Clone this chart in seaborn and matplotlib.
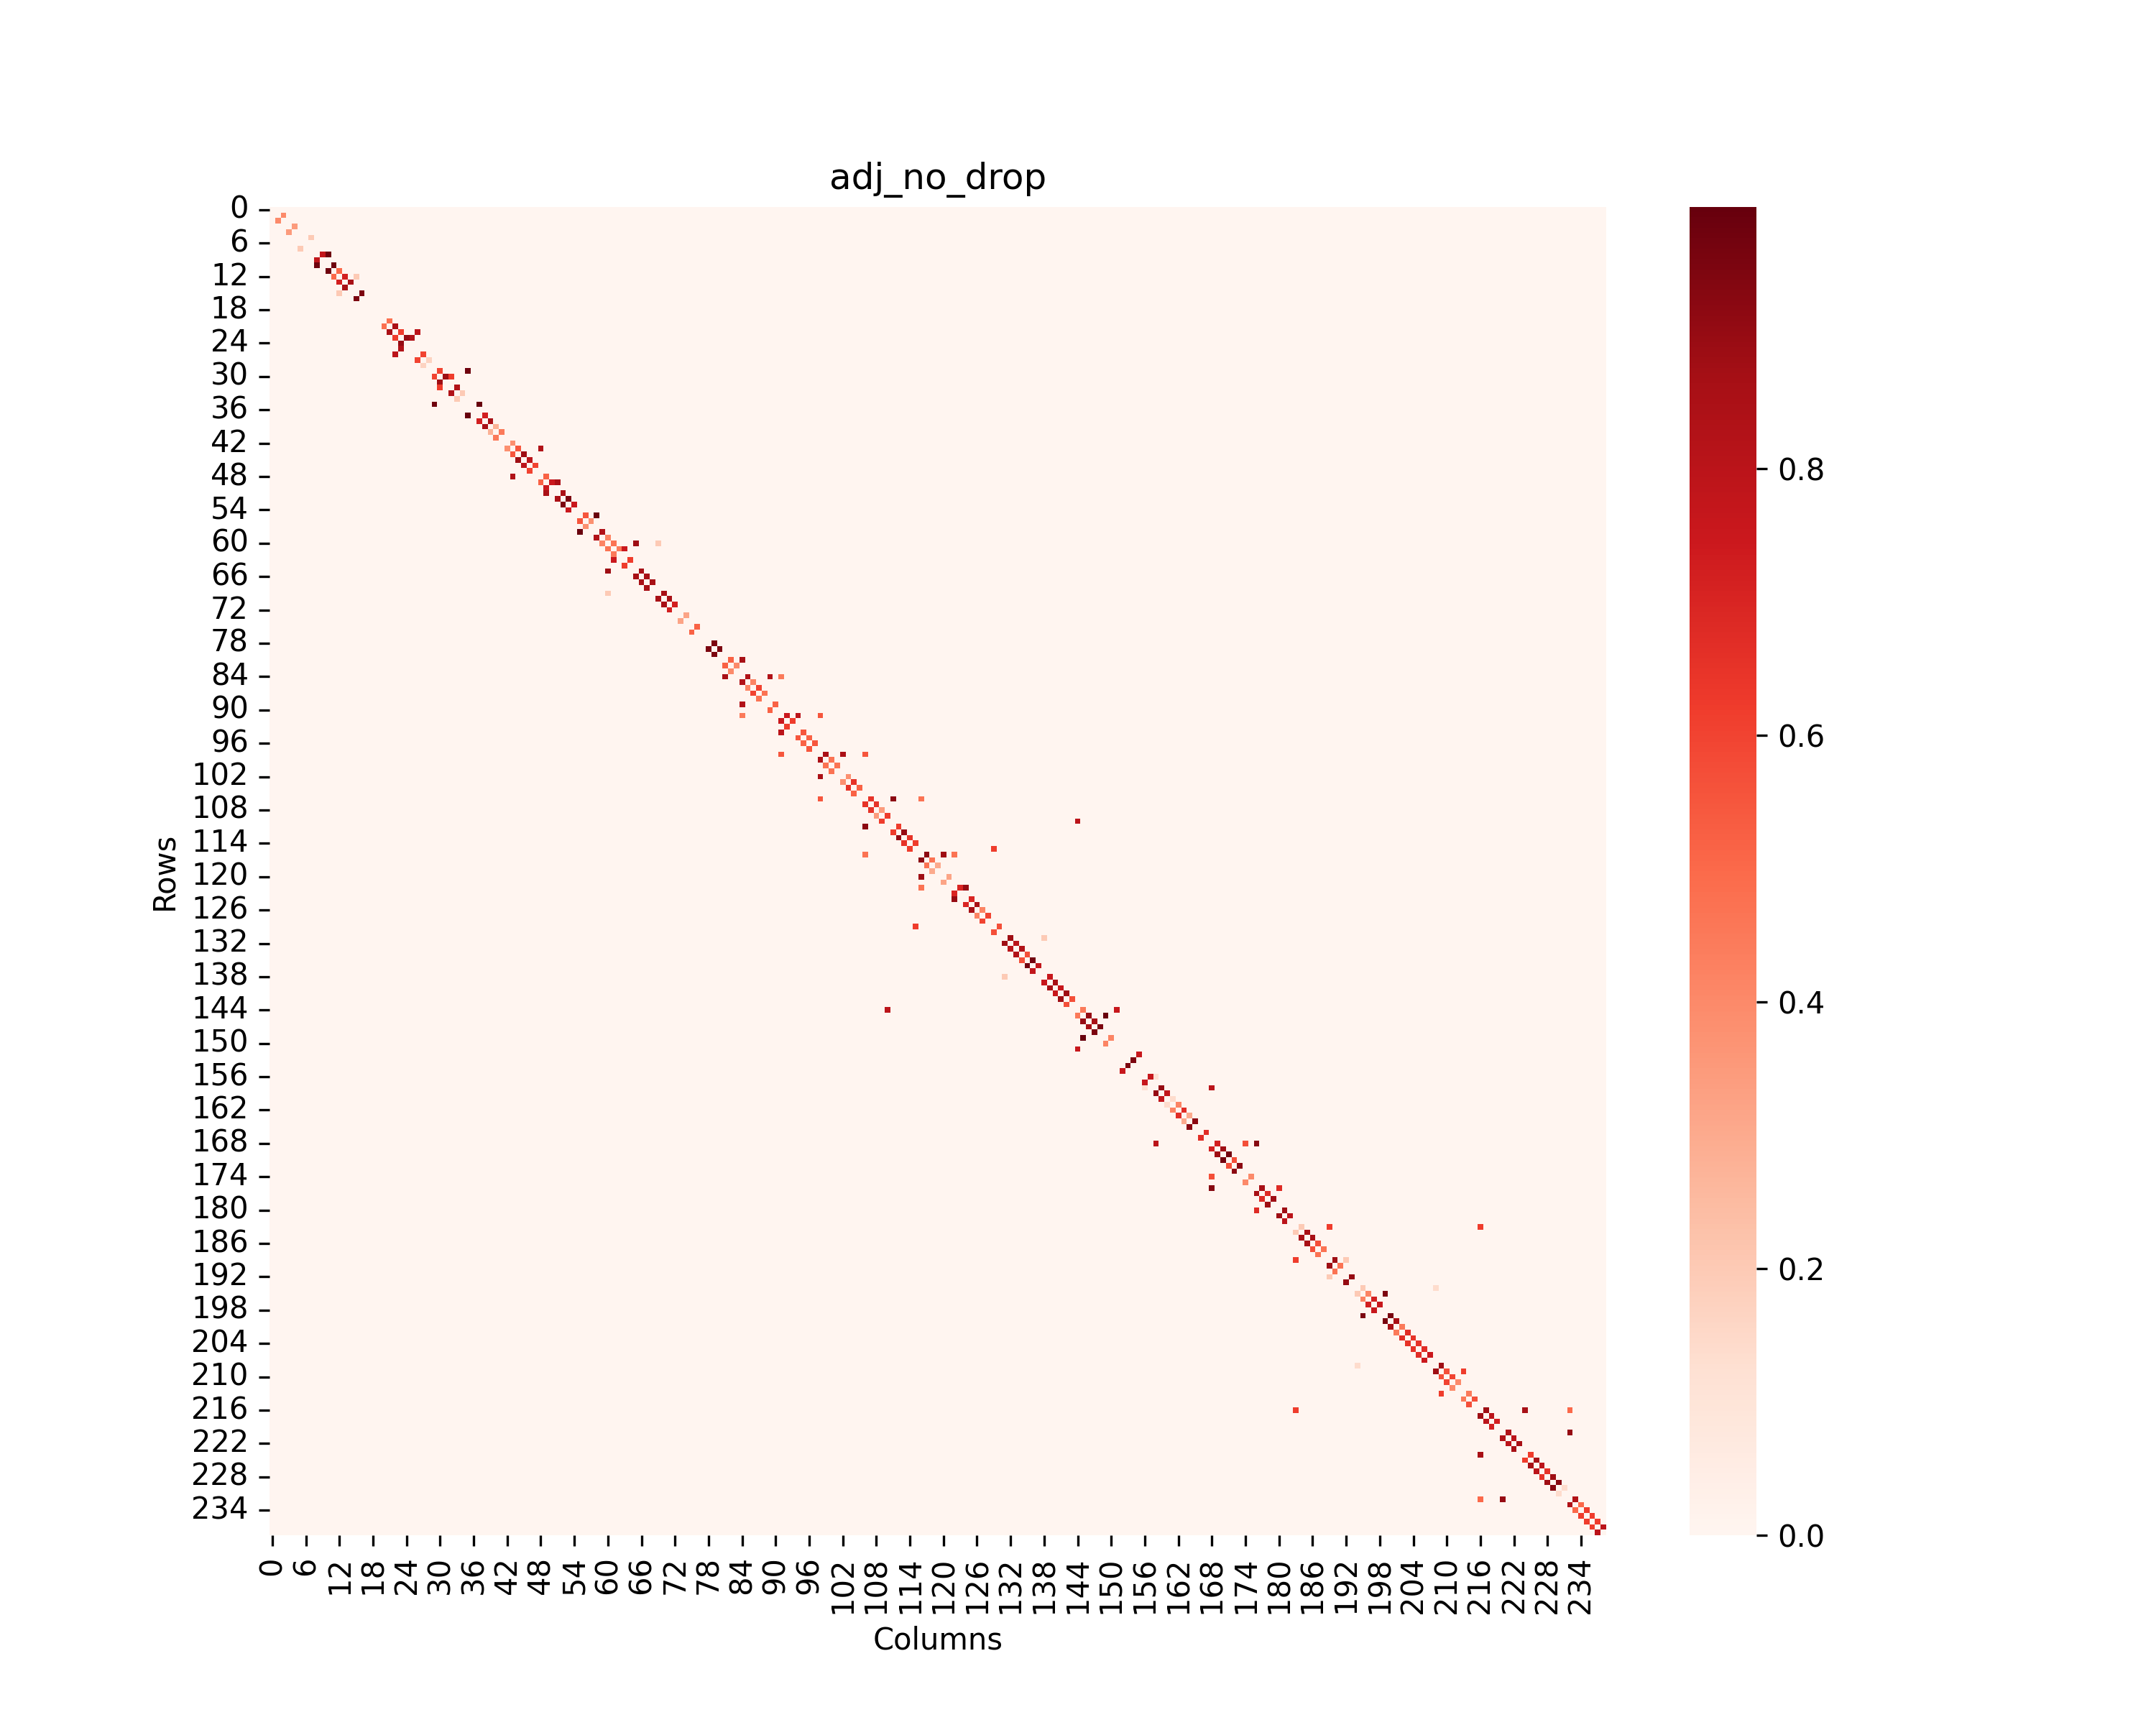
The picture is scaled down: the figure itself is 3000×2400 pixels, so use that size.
import numpy as np
import matplotlib
matplotlib.use("Agg")
import matplotlib.pyplot as plt
import seaborn as sns

# size of the (symmetric) adjacency matrix
n_nodes = 239

# upper-triangle edges: row index, column index, weight
edge_i = [1, 3, 5, 8, 8, 10, 11, 12, 12, 13, 15, 20, 21, 22, 22, 23, 23, 26, 27, 29,
          29, 30, 30, 32, 33, 35, 37, 38, 39, 40, 42, 43, 43, 44, 45, 46, 48, 49, 49, 51,
          52, 53, 55, 55, 56, 58, 59, 60, 60, 60, 61, 61, 63, 65, 66, 67, 69, 70, 71, 73,
          75, 78, 79, 81, 81, 82, 84, 84, 84, 85, 86, 87, 89, 91, 91, 91, 92, 94, 95, 96,
          98, 98, 98, 99, 100, 102, 103, 104, 106, 106, 106, 107, 108, 109, 110, 111, 112, 113, 114, 115,
          116, 116, 116, 117, 118, 120, 122, 122, 124, 125, 126, 127, 129, 131, 131, 132, 133, 134, 135, 136,
          138, 139, 140, 141, 142, 144, 144, 145, 145, 146, 147, 149, 152, 153, 156, 156, 158, 158, 159, 160,
          161, 162, 163, 164, 166, 168, 168, 168, 169, 170, 171, 172, 174, 176, 176, 177, 178, 180, 181, 183,
          183, 183, 184, 185, 186, 187, 189, 189, 190, 192, 194, 194, 195, 195, 196, 197, 199, 200, 201, 202,
          203, 204, 205, 206, 208, 209, 209, 210, 211, 213, 214, 216, 216, 216, 217, 218, 220, 220, 221, 222,
          224, 225, 226, 227, 228, 229, 230, 232, 233, 234, 235, 236, 237]
edge_j = [2, 4, 7, 9, 10, 11, 12, 13, 15, 14, 16, 21, 22, 23, 26, 24, 25, 27, 28, 30,
          35, 31, 32, 33, 34, 37, 38, 39, 40, 41, 43, 44, 48, 45, 46, 47, 49, 50, 51, 52,
          53, 54, 56, 58, 57, 59, 60, 61, 65, 69, 62, 63, 64, 66, 67, 68, 70, 71, 72, 74,
          76, 79, 80, 82, 84, 83, 85, 89, 91, 86, 87, 88, 90, 92, 94, 98, 93, 95, 96, 97,
          99, 102, 106, 100, 101, 103, 104, 105, 107, 111, 116, 108, 109, 110, 144, 112, 113, 114, 115, 129,
          117, 120, 122, 118, 119, 121, 123, 124, 125, 126, 127, 128, 130, 132, 138, 133, 134, 135, 136, 137,
          139, 140, 141, 142, 143, 145, 151, 146, 149, 147, 148, 150, 155, 154, 157, 158, 159, 168, 160, 161,
          162, 163, 164, 165, 167, 169, 174, 176, 170, 171, 172, 173, 175, 177, 180, 178, 179, 181, 182, 184,
          189, 216, 185, 186, 187, 188, 190, 192, 191, 193, 195, 208, 196, 199, 197, 198, 200, 201, 202, 203,
          204, 205, 206, 207, 209, 210, 213, 211, 212, 214, 215, 217, 224, 232, 218, 219, 221, 232, 222, 223,
          225, 226, 227, 228, 229, 230, 231, 233, 234, 235, 236, 237, 238]
edge_w = [0.40, 0.35, 0.20, 0.78, 0.98, 0.98, 0.50, 0.72, 0.20, 0.86, 0.95, 0.48, 0.85, 0.62, 0.80, 0.90, 0.83, 0.60, 0.17, 0.60,
          0.98, 0.88, 0.62, 0.83, 0.20, 0.996, 0.72, 0.86, 0.28, 0.45, 0.38, 0.55, 0.83, 0.88, 0.80, 0.60, 0.52, 0.75, 0.85, 0.85,
          0.95, 0.75, 0.55, 0.99, 0.38, 0.83, 0.42, 0.47, 0.88, 0.20, 0.45, 0.75, 0.62, 0.86, 0.86, 0.86, 0.86, 0.86, 0.72, 0.32,
          0.52, 0.95, 0.95, 0.52, 0.86, 0.40, 0.83, 0.83, 0.45, 0.42, 0.60, 0.47, 0.52, 0.75, 0.80, 0.55, 0.62, 0.55, 0.52, 0.55,
          0.85, 0.85, 0.55, 0.47, 0.47, 0.38, 0.65, 0.52, 0.65, 0.92, 0.47, 0.65, 0.35, 0.62, 0.80, 0.62, 0.90, 0.65, 0.62, 0.62,
          0.92, 0.88, 0.47, 0.47, 0.30, 0.32, 0.70, 0.90, 0.70, 0.86, 0.42, 0.60, 0.57, 0.88, 0.20, 0.80, 0.83, 0.57, 0.97, 0.78,
          0.76, 0.86, 0.76, 0.88, 0.57, 0.45, 0.76, 0.90, 0.99, 0.86, 0.95, 0.42, 0.76, 0.95, 0.76, 0.12, 0.90, 0.80, 0.78, 0.14,
          0.42, 0.67, 0.30, 0.92, 0.67, 0.72, 0.57, 0.93, 0.88, 0.97, 0.57, 0.92, 0.40, 0.86, 0.68, 0.68, 0.88, 0.88, 0.80, 0.20,
          0.62, 0.62, 0.86, 0.86, 0.57, 0.47, 0.88, 0.20, 0.47, 0.90, 0.20, 0.14, 0.42, 0.95, 0.72, 0.76, 0.96, 0.86, 0.45, 0.67,
          0.65, 0.65, 0.67, 0.75, 0.88, 0.57, 0.62, 0.60, 0.40, 0.45, 0.57, 0.88, 0.86, 0.50, 0.80, 0.72, 0.83, 0.90, 0.80, 0.86,
          0.62, 0.86, 0.80, 0.65, 0.88, 0.93, 0.14, 0.83, 0.50, 0.62, 0.62, 0.62, 0.80]

# build the symmetric matrix
adj = np.zeros((n_nodes, n_nodes))
adj[edge_i, edge_j] = edge_w
adj[edge_j, edge_i] = edge_w

fig = plt.figure(figsize=(10, 8))
ax = sns.heatmap(adj, cmap="Reds", xticklabels=6, yticklabels=6)
ax.set_title("adj_no_drop")
ax.set_xlabel("Columns")
ax.set_ylabel("Rows")
plt.setp(ax.get_xticklabels(), rotation=90)
plt.setp(ax.get_yticklabels(), rotation=0)

plt.savefig("out.png", dpi=300)
plt.close()
